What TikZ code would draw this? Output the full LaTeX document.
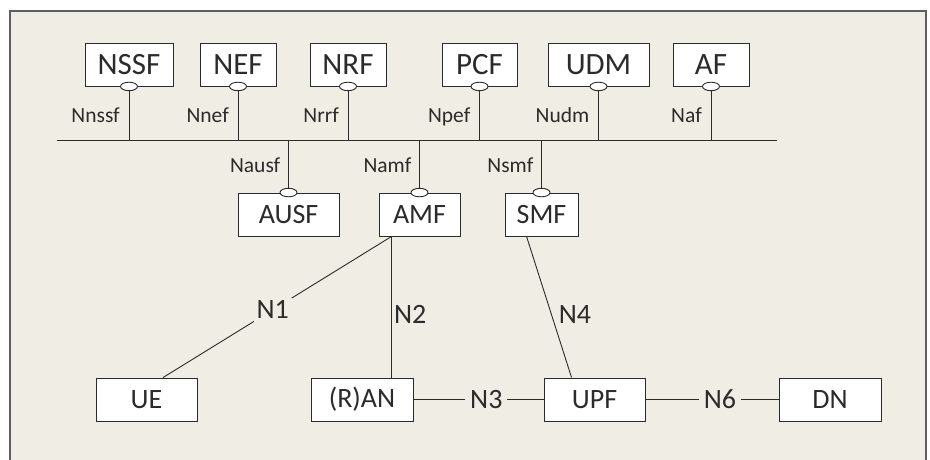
\documentclass[tikz,border=0pt]{standalone}
\usepackage{fontspec}
\setmainfont{Carlito}
\usetikzlibrary{shapes.geometric}
\definecolor{paper}{HTML}{F0EDE5}
\definecolor{ink}{HTML}{2B2B2B}
\definecolor{rim}{HTML}{5E5E5E}

\begin{document}
\begin{tikzpicture}[x=1pt,y=-1pt]
      \tikzset{
        nf/.style={draw=ink,fill=white,line width=0.9pt,minimum height=43pt,inner sep=0pt,
          text=ink,font=\fontsize{28}{28}\selectfont},
        topnf/.style={nf,font=\fontsize{31}{31}\selectfont},
        port/.style={ellipse,draw=ink,fill=white,line width=0.9pt,minimum width=17pt,
          minimum height=8.5pt,inner sep=0pt},
        iface/.style={text=ink,font=\fontsize{21.5}{21.5}\selectfont,inner sep=0pt},
        link/.style={draw=ink,line width=0.9pt},
        ref/.style={text=ink,font=\fontsize{28}{28}\selectfont,inner sep=3pt}
      }

      \useasboundingbox (0,0) rectangle (930,460);
      \clip (0,0) rectangle (930,460);
      \fill[white] (0,0) rectangle (930,460);
      \draw[rim,fill=paper,line width=1.6pt] (10,11) rectangle (926,490);

      % network functions
      \node[topnf,minimum width=88pt]  (nssf) at (129,64.5)   {NSSF};
      \node[topnf,minimum width=76pt]  (nef)  at (238,64.5)   {NEF};
      \node[topnf,minimum width=76pt]  (nrf)  at (348,64.5)   {NRF};
      \node[topnf,minimum width=75pt]  (pcf)  at (479.5,64.5) {PCF};
      \node[topnf,minimum width=101pt] (udm)  at (598.5,64.5) {UDM};
      \node[topnf,minimum width=76pt]  (af)   at (711,64.5)   {AF};

      \node[nf,minimum width=101pt] (ausf) at (288.5,214.5) {AUSF};
      \node[nf,minimum width=81pt]  (amf)  at (419.5,214.5) {AMF};
      \node[nf,minimum width=73pt]  (smf)  at (541.5,214.5) {SMF};

      \node[nf,minimum width=101pt] (ue)  at (146.5,399.5) {UE};
      \node[nf,minimum width=102pt] (ran) at (362,399.5)   {(R)AN};
      \node[nf,minimum width=101pt] (upf) at (594.5,399.5) {UPF};
      \node[nf,minimum width=102pt] (dn)  at (830,399.5)   {DN};

      % service bus
      \coordinate (busw) at (57,140);
      \coordinate (buse) at (777,140);
      \draw[link] (busw) -- (buse);

      \foreach \n/\lab in {nssf/Nnssf,nef/Nnef,nrf/Nrrf,pcf/Npef,udm/Nudm,af/Naf} {
        \node[port] (p\n) at (\n.south) {};
        \draw[link] (p\n.south) -- (p\n.south |- busw);
        \node[iface,anchor=base east] (l\n) at ([xshift=-9pt,yshift=17pt]\n.south |- busw) {\lab};
      }
      \foreach \n/\lab in {ausf/Nausf,amf/Namf,smf/Nsmf} {
        \node[port] (p\n) at (\n.north) {};
        \draw[link] (p\n.north) -- (p\n.north |- busw);
        \node[iface,anchor=base east] (l\n) at ([xshift=-8pt,yshift=-32pt]\n.north |- busw) {\lab};
      }

      % reference points
      \coordinate (amfs) at ([xshift=13pt]amf.south west);
      \coordinate (smfs) at ([xshift=22pt]smf.south west);
      \draw[link] (amfs) -- node[ref,fill=paper,pos=0.52] (n1) {N1} ([xshift=16.5pt]ue.north);
      \draw[link] (amfs) -- node[ref,right,pos=0.55,inner sep=2pt] (n2) {N2} (amfs |- ran.north);
      \draw[link] (smfs) -- node[ref,right,pos=0.55,inner sep=7pt] (n4) {N4} ([xshift=28pt]upf.north west);
      \draw[link] (ran.east) -- node[ref,fill=paper,pos=0.56,inner sep=5pt] (n3) {N3} (upf.west);
      \draw[link] (upf.east) -- node[ref,fill=paper,pos=0.56,inner sep=5pt] (n6) {N6} (dn.west);
    \end{tikzpicture}
\end{document}
